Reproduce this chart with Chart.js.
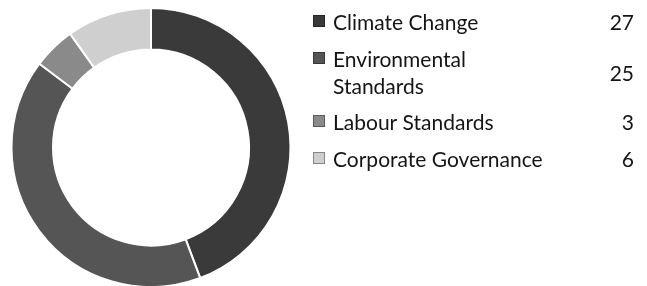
<!DOCTYPE html>
<html>
<head>
<meta charset="utf-8">
<script src="https://cdn.jsdelivr.net/npm/chart.js@4.4.1/dist/chart.umd.min.js"></script>
<style>
  html, body { margin: 0; padding: 0; background: #fff; overflow: hidden; }
  #wrap { position: relative; width: 647px; height: 290px; }
</style>
</head>
<body>
<div id="wrap"><canvas id="c" width="647" height="290"></canvas></div>
<script>
const categories = ['Climate Change', 'Environmental Standards', 'Labour Standards', 'Corporate Governance'];
const displayLabels = [['Climate Change'], ['Environmental', 'Standards'], ['Labour Standards'], ['Corporate Governance']];
const values = [27, 25, 3, 6];
const colors = ['#3a3a3a', '#555555', '#8a8a8a', '#cfcfcf'];

const legendPlugin = {
  id: 'sideLegend',
  afterDraw(chart) {
    const ctx = chart.ctx;
    ctx.save();
    ctx.font = '21px Lato';
    ctx.textBaseline = 'alphabetic';
    const firstBaselines = [30, 67, 130, 167];
    const lineGap = 27;
    const markerX = 313, markerSize = 12, textX = 333, valueX = 634;
    categories.forEach((cat, i) => {
      const lines = displayLabels[i];
      const b = firstBaselines[i];
      ctx.fillStyle = colors[i];
      ctx.fillRect(markerX, b - 15, markerSize, markerSize);
      ctx.strokeStyle = 'rgba(0,0,0,0.35)';
      ctx.lineWidth = 1;
      ctx.strokeRect(markerX + 0.5, b - 14.5, markerSize - 1, markerSize - 1);
      ctx.fillStyle = '#151515';
      ctx.textAlign = 'left';
      lines.forEach((ln, k) => ctx.fillText(ln, textX, b + k * lineGap));
      ctx.textAlign = 'right';
      const vb = b + (lines.length - 1) * lineGap / 2;
      ctx.fillText(String(values[i]), valueX, vb);
    });
    ctx.restore();
  }
};

new Chart(document.getElementById('c'), {
  type: 'doughnut',
  data: {
    labels: categories,
    datasets: [{
      data: values,
      backgroundColor: colors,
      borderColor: '#ffffff',
      borderWidth: 2
    }]
  },
  options: {
    responsive: false,
    animation: false,
    cutout: 98,
    layout: { padding: { left: 10.5, right: 355.5, top: 7, bottom: 2 } },
    plugins: { legend: { display: false }, tooltip: { enabled: false } }
  },
  plugins: [legendPlugin]
});
</script>
</body>
</html>
